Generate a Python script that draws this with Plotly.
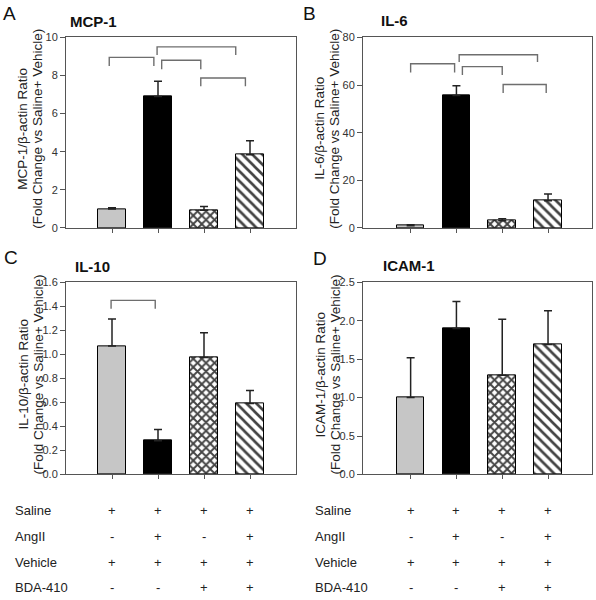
import plotly.graph_objects as go

# ---------------- data ----------------
groups = ["Saline+Vehicle", "Saline+AngII+Vehicle", "Saline+Vehicle+BDA-410", "Saline+AngII+Vehicle+BDA-410"]
cat_pos = [0, 1, 2, 3]

mcp1_vals = [1.0, 6.9, 0.93, 3.84]
mcp1_err = [0.06, 0.8, 0.2, 0.74]
il6_vals = [0.9, 55.6, 3.0, 11.4]
il6_err = [0.4, 4.1, 0.9, 2.9]
il10_vals = [1.07, 0.28, 0.975, 0.59]
il10_err = [0.225, 0.095, 0.205, 0.11]
icam1_vals = [1.0, 1.9, 1.29, 1.69]
icam1_err = [0.52, 0.35, 0.73, 0.44]

# significance brackets: (left x, right x, top y, end y)
mcp1_brackets = [(-0.06, 0.91, 8.95, 8.5), (0.98, 2.69, 9.5, 9.07),
                 (1.08, 1.93, 8.8, 8.33), (1.93, 2.9, 7.87, 7.44)]
il6_brackets = [(0.0, 0.96, 68.9, 65.2), (1.06, 2.77, 72.7, 69.7),
                (1.13, 2.0, 67.7, 64.2), (2.02, 2.96, 60.2, 56.6)]
il10_brackets = [(-0.02, 0.94, 1.45, 1.38)]
icam1_brackets = []

row_labels = ["Saline", "AngII", "Vehicle", "BDA-410"]
row_signs = [["+", "+", "+", "+"],
             ["-", "+", "-", "+"],
             ["+", "+", "+", "+"],
             ["-", "-", "+", "+"]]

panels = [
    dict(letter="A", title="MCP-1", ylab="MCP-1/β-actin Ratio", vals=mcp1_vals, err=mcp1_err,
         br=mcp1_brackets, yr=[0, 10], dtick=2, fmt="d"),
    dict(letter="B", title="IL-6", ylab="IL-6/β-actin Ratio", vals=il6_vals, err=il6_err,
         br=il6_brackets, yr=[0, 80], dtick=20, fmt="d"),
    dict(letter="C", title="IL-10", ylab="IL-10/β-actin Ratio", vals=il10_vals, err=il10_err,
         br=il10_brackets, yr=[0, 1.6], dtick=0.2, fmt=".1f"),
    dict(letter="D", title="ICAM-1", ylab="ICAM-1/β-actin Ratio", vals=icam1_vals, err=icam1_err,
         br=icam1_brackets, yr=[0, 2.5], dtick=0.5, fmt=".1f"),
]

# ---------------- layout geometry ----------------
W, H = 596, 600
FONT = "Liberation Sans, Arial, sans-serif"
xdom_l = [66 / W, 296 / W]
xdom_r = [363 / W, 592 / W]
ydom_t = [1 - 226.5 / H, 1 - 32 / H]
ydom_b = [1 - 478 / H, 1 - 282 / H]
doms = [(xdom_l, ydom_t, [-1, 4]), (xdom_r, ydom_t, [-1.04, 3.96]),
        (xdom_l, ydom_b, [-1, 4]), (xdom_r, ydom_b, [-1.04, 3.96])]
# px positions for text
letter_xy = [(1, 8), (301, 8), (2, 257), (311, 258)]
title_xy = [(68, 16), (379, 15), (73, 266), (381, 265)]
ylab_x = [(23, 38), (320, 335), (23, 38), (320, 335)]

fig = go.Figure()
annotations = []

for i, p in enumerate(panels):
    n = "" if i == 0 else str(i + 1)
    xa, ya = "x" + n, "y" + n
    xdom, ydom, xr = doms[i]
    fig.add_trace(go.Bar(
        x=cat_pos, y=p["vals"], width=0.6, xaxis=xa, yaxis=ya,
        marker=dict(color=["#c6c6c6", "#000000", "#ffffff", "#ffffff"],
                    line=dict(color="#000000", width=1),
                    pattern=dict(shape=["", "", "x", "\\"], fgcolor="#000000", fgopacity=1,
                                 size=[6, 6, 6, 7], solidity=[0.3, 0.3, 0.55, 0.38])),
        error_y=dict(type="data", array=p["err"], arrayminus=[0, 0, 0, 0], symmetric=False,
                     color="#222222", thickness=1.5, width=4),
        showlegend=False, hoverinfo="skip"))
    for (x1, x2, yt, ye) in p["br"]:
        fig.add_trace(go.Scatter(x=[x1, x1, x2, x2], y=[ye, yt, yt, ye], mode="lines",
                                 line=dict(color="#6e6e6e", width=1.4), xaxis=xa, yaxis=ya,
                                 showlegend=False, hoverinfo="skip"))
    fig.update_layout(**{
        ("xaxis" + n): dict(domain=xdom, range=xr, anchor=ya, showline=True, mirror=True,
                            linecolor="#555555", linewidth=1, ticks="outside", ticklen=4,
                            tickcolor="#555555", tickvals=cat_pos, showticklabels=False,
                            showgrid=False, zeroline=False, fixedrange=True),
        ("yaxis" + n): dict(domain=ydom, range=p["yr"], anchor=xa, showline=True, mirror=True,
                            linecolor="#555555", linewidth=1, ticks="outside", ticklen=5,
                            tickcolor="#555555", dtick=p["dtick"], tick0=0,
                            tickformat=p["fmt"], showgrid=False, zeroline=False,
                            tickfont=dict(family=FONT, size=11, color="#333333"),
                            fixedrange=True),
    })
    ymid_px = (1 - (ydom[0] + ydom[1]) / 2) * H - 4
    lx, ly = letter_xy[i]
    annotations.append(dict(text=p["letter"], x=lx / W, y=1 - ly / H, xref="paper", yref="paper",
                            xanchor="left", yanchor="middle", showarrow=False,
                            font=dict(family=FONT, size=19, color="#111111")))
    tx, ty = title_xy[i]
    annotations.append(dict(text="<b>" + p["title"] + "</b>", x=tx / W, y=1 - ty / H,
                            xref="paper", yref="paper", xanchor="left", yanchor="middle",
                            showarrow=False, font=dict(family=FONT, size=15, color="#111111")))
    l1, l2 = ylab_x[i]
    annotations.append(dict(text=p["ylab"], x=l1 / W, y=1 - ymid_px / H, xref="paper", yref="paper",
                            xanchor="center", yanchor="middle", textangle=-90, showarrow=False,
                            font=dict(family=FONT, size=13.5, color="#222222")))
    annotations.append(dict(text="(Fold Change vs Saline+ Vehicle)", x=l2 / W, y=1 - ymid_px / H,
                            xref="paper", yref="paper", xanchor="center", yanchor="middle",
                            textangle=-90, showarrow=False,
                            font=dict(family=FONT, size=13.5, color="#222222")))

# treatment table under C and D
row_y = [515, 541, 568, 593]
for xa, lab_x in (("x3", 13), ("x4", 313)):
    for r, lab in enumerate(row_labels):
        annotations.append(dict(text=lab, x=lab_x / W, y=1 - row_y[r] / H, xref="paper",
                                yref="paper", xanchor="left", yanchor="middle", showarrow=False,
                                font=dict(family=FONT, size=13, color="#222222")))
        for c, s in zip(cat_pos, row_signs[r]):
            annotations.append(dict(text=s, x=c, y=1 - row_y[r] / H, xref=xa, yref="paper",
                                    xanchor="center", yanchor="middle", showarrow=False,
                                    font=dict(family=FONT, size=13, color="#222222")))

fig.update_layout(width=W, height=H, margin=dict(l=0, r=0, t=0, b=0),
                  paper_bgcolor="#ffffff", plot_bgcolor="#ffffff",
                  annotations=annotations, bargap=0)
fig.write_html("out.html", config={"displayModeBar": False},
               post_script="document.body.style.margin='0';document.body.style.padding='0';"
                           "document.documentElement.style.overflow='hidden';")
